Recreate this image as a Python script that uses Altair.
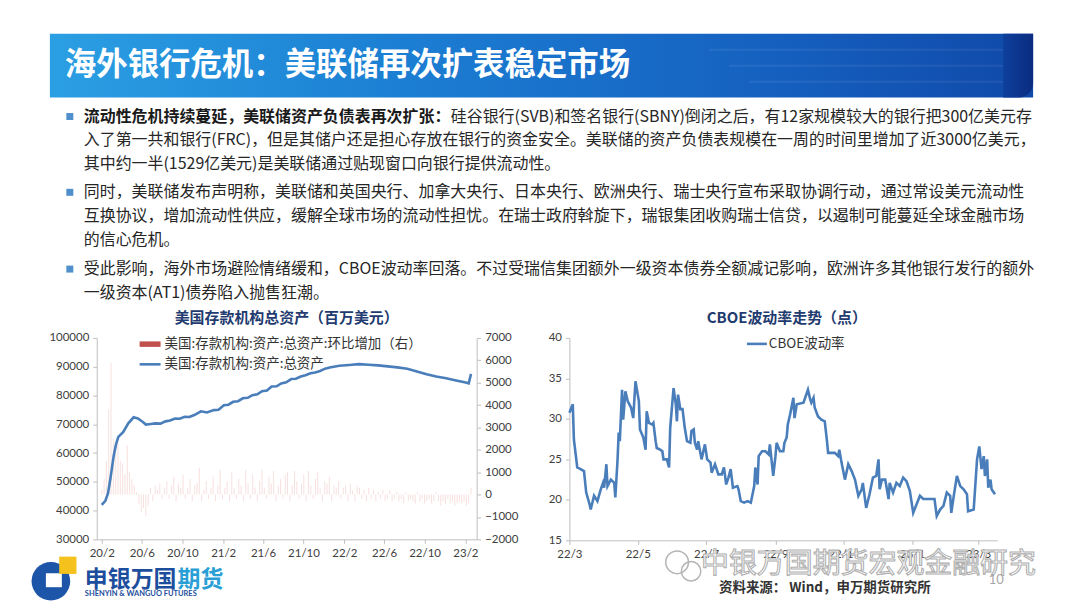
import altair as alt
import pandas as pd

CJK = "Noto Sans CJK SC"
NUM = "Lato"

# ---------------- data ----------------
# weekly change of total assets (right axis), starting 2020-02-01
bar_start = "2020-02-01"
bar_change = [
    200, 700, 1500, 3800, 5900, 2500, 1800, 2300, 1500, 1400,
    900, 2200, 1000, 700, 400, 100, -400, -800, -600, -950,
    -500, 300, -300, 400, 200, 500, -200, 300, 600, -200,
    400, 800, -300, 500, 300, 900, -200, 300, 700, -300,
    400, 500, 1200, -300, 200, 600, -200, 300, 800, -300,
    400, 1100, -200, 300, 600, -300, 1000, 300, -200, 700,
    400, -300, 1100, 500, -200, 900, 300, -300, 600, 1100,
    300, -200, 800, 500, 1050, -300, 400, 700, -200, 900,
    1000, -300, 400, 1050, 600, -200, 500, 900, -300, 1050,
    400, -200, 700, 1000, 300, -300, 600, 500, 800, -300,
    400, 300, 600, -200, 300, 400, -300, 500, 200, -300,
    400, 300, -200, 200, -300, 300, -200, 200, -300, 100,
    -200, 200, -300, -200, 200, -300, -200, 100, -300, -200,
    -400, 100, -300, -200, -300, -400, 100, -300, -200, -400,
    -300, -200, -400, -300, 100, -300, -500, -300, -400, -200,
    -400, -300, -500, -400, -300, -400, -300, -500, -400, 300,
]

asset_dates = [
    "2020-02-01", "2020-02-12", "2020-02-20", "2020-02-27", "2020-03-08", "2020-03-15",
    "2020-03-22", "2020-04-06", "2020-04-21", "2020-05-07", "2020-05-20", "2020-06-04",
    "2020-06-13", "2020-06-28", "2020-07-12", "2020-07-27", "2020-08-11", "2020-08-25",
    "2020-09-09", "2020-09-23", "2020-10-08", "2020-10-22", "2020-11-06", "2020-11-26",
    "2020-12-14", "2021-01-04", "2021-01-18", "2021-02-03", "2021-02-17", "2021-03-03",
    "2021-03-18", "2021-04-01", "2021-04-16", "2021-04-30", "2021-05-15", "2021-05-29",
    "2021-06-13", "2021-06-27", "2021-07-12", "2021-07-26", "2021-08-10", "2021-08-25",
    "2021-09-08", "2021-09-23", "2021-10-07", "2021-10-22", "2021-11-05", "2021-11-20",
    "2021-12-05", "2021-12-19", "2022-01-17", "2022-02-16", "2022-03-17", "2022-04-15",
    "2022-05-14", "2022-06-12", "2022-07-11", "2022-08-10", "2022-09-08", "2022-10-07",
    "2022-11-05", "2022-12-05", "2023-01-04", "2023-02-02", "2023-02-11", "2023-02-18",
]
asset_values = [
    42000, 43400, 46000, 51000, 59000, 63000,
    65600, 67300, 70300, 72400, 72000, 70800,
    69900, 70100, 70300, 70200, 71000, 71300,
    72000, 71900, 72600, 72500, 73200, 74500,
    74100, 74900, 75000, 76600, 76800, 77800,
    78000, 79000, 79200, 80100, 80400, 81500,
    81700, 83100, 83200, 84200, 84600, 85700,
    85800, 86600, 87000, 87700, 88000, 88500,
    89300, 89700, 90300, 90600, 90900, 90650,
    90450, 90100, 89750, 89250, 88350, 87400,
    86600, 86000, 85200, 84500, 84200, 87500,
]

vix_dates = [
    "2022-03-01", "2022-03-04", "2022-03-05", "2022-03-08", "2022-03-11", "2022-03-14",
    "2022-03-16", "2022-03-19", "2022-03-20", "2022-03-23", "2022-03-26", "2022-03-29",
    "2022-03-31", "2022-04-01", "2022-04-03", "2022-04-04", "2022-04-07", "2022-04-10",
    "2022-04-11", "2022-04-13", "2022-04-14", "2022-04-15", "2022-04-17", "2022-04-18",
    "2022-04-20", "2022-04-22", "2022-04-25", "2022-04-27", "2022-04-29", "2022-05-02",
    "2022-05-03", "2022-05-06", "2022-05-08", "2022-05-09", "2022-05-11", "2022-05-14",
    "2022-05-15", "2022-05-17", "2022-05-18", "2022-05-21", "2022-05-23", "2022-05-24",
    "2022-05-27", "2022-05-29", "2022-05-30", "2022-06-02", "2022-06-04", "2022-06-05",
    "2022-06-06", "2022-06-08", "2022-06-10", "2022-06-12", "2022-06-14", "2022-06-17",
    "2022-06-18", "2022-06-20", "2022-06-21", "2022-06-23", "2022-06-24", "2022-06-27",
    "2022-06-30", "2022-07-02", "2022-07-05", "2022-07-06", "2022-07-09", "2022-07-12",
    "2022-07-15", "2022-07-17", "2022-07-19", "2022-07-21", "2022-07-23", "2022-07-25",
    "2022-07-29", "2022-07-30", "2022-08-01", "2022-08-04", "2022-08-07", "2022-08-10",
    "2022-08-13", "2022-08-14", "2022-08-16", "2022-08-17", "2022-08-20", "2022-08-23",
    "2022-08-26", "2022-08-27", "2022-08-30", "2022-09-01", "2022-09-02", "2022-09-05",
    "2022-09-08", "2022-09-09", "2022-09-11", "2022-09-12", "2022-09-14", "2022-09-17",
    "2022-09-18", "2022-09-20", "2022-09-26", "2022-09-30", "2022-10-02", "2022-10-03",
    "2022-10-05", "2022-10-06", "2022-10-09", "2022-10-12", "2022-10-15", "2022-10-17",
    "2022-10-18", "2022-10-21", "2022-10-24", "2022-10-27", "2022-10-28", "2022-10-30",
    "2022-11-02", "2022-11-05", "2022-11-08", "2022-11-11", "2022-11-14", "2022-11-17",
    "2022-11-18", "2022-11-21", "2022-11-24", "2022-11-27", "2022-11-30", "2022-12-02",
    "2022-12-03", "2022-12-05", "2022-12-08", "2022-12-11", "2022-12-12", "2022-12-15",
    "2022-12-18", "2022-12-21", "2022-12-24", "2022-12-27", "2022-12-30", "2023-01-02",
    "2023-01-05", "2023-01-08", "2023-01-11", "2023-01-17", "2023-01-21", "2023-01-23",
    "2023-01-26", "2023-01-29", "2023-02-01", "2023-02-04", "2023-02-05", "2023-02-07",
    "2023-02-10", "2023-02-13", "2023-02-16", "2023-02-19", "2023-02-20", "2023-02-25",
    "2023-02-28", "2023-03-02", "2023-03-04", "2023-03-06", "2023-03-07", "2023-03-09",
    "2023-03-10", "2023-03-12", "2023-03-13", "2023-03-16",
]
vix_values = [
    30.75, 31.8, 27.45, 24.0, 23.8, 23.55,
    20.9, 19.45, 18.8, 20.5, 19.85, 21.3,
    22.1, 21.5, 24.4, 21.7, 22.5, 22.1,
    20.3, 25.0, 28.3, 27.25, 33.6, 29.9,
    33.4, 32.2, 31.4, 30.1, 34.65, 32.2,
    28.7, 27.7, 26.2, 30.95, 29.5, 29.3,
    29.5, 27.25, 26.4, 26.2, 26.0, 25.0,
    25.0, 24.0, 28.9, 33.8, 31.8, 29.7,
    33.0, 31.2, 31.2, 28.9, 27.25, 27.05,
    28.5, 28.7, 27.05, 26.2, 27.25, 25.0,
    26.85, 25.0, 24.6, 23.35, 24.4, 23.15,
    23.15, 24.0, 21.9, 22.75, 23.8, 21.5,
    21.7, 21.3, 19.85, 19.65, 19.85, 19.65,
    21.7, 24.0, 21.9, 25.4, 26.0, 26.0,
    25.6, 26.85, 22.95, 25.4, 27.05, 26.0,
    26.0, 27.05, 27.7, 29.3, 30.5, 32.6,
    30.1, 31.8, 32.0, 33.6, 32.4, 32.0,
    32.6, 31.4, 30.3, 29.9, 29.7, 27.25,
    25.8, 25.8, 25.8, 25.4, 26.2, 24.6,
    22.5, 24.4, 23.55, 22.5, 20.5, 21.3,
    22.1, 19.0, 20.7, 22.75, 22.95, 25.0,
    21.3, 22.5, 22.5, 20.1, 22.1, 20.9,
    22.1, 21.7, 22.75, 22.3, 21.1, 18.4,
    19.45, 20.5, 20.1, 20.1, 20.1, 18.0,
    18.8, 19.25, 20.9, 20.5, 18.4, 20.3,
    22.95, 21.7, 21.3, 20.7, 18.6, 18.8,
    25.0, 26.6, 23.8, 25.4, 22.95, 25.0,
    21.5, 22.5, 21.3, 20.7,
]

left_ticks = ["2020-02", "2020-06", "2020-10", "2021-02", "2021-06",
              "2021-10", "2022-02", "2022-06", "2022-10", "2023-02"]
right_ticks = ["2022-03", "2022-05", "2022-07", "2022-09", "2022-11", "2023-01", "2023-03"]
asset_axis = [30000, 40000, 50000, 60000, 70000, 80000, 90000, 100000]
change_axis = [-2000, -1000, 0, 1000, 2000, 3000, 4000, 5000, 6000, 7000]
vix_axis = [15, 20, 25, 30, 35, 40]

title_text = "海外银行危机：美联储再次扩表稳定市场"
b1_bold = "流动性危机持续蔓延，美联储资产负债表再次扩张："
b1_rest = "硅谷银行(SVB)和签名银行(SBNY)倒闭之后，有12家规模较大的银行把300亿美元存"
body_lines = [
    "入了第一共和银行(FRC)，但是其储户还是担心存放在银行的资金安全。美联储的资产负债表规模在一周的时间里增加了近3000亿美元，",
    "其中约一半(1529亿美元)是美联储通过贴现窗口向银行提供流动性。",
    "同时，美联储发布声明称，美联储和英国央行、加拿大央行、日本央行、欧洲央行、瑞士央行宣布采取协调行动，通过常设美元流动性",
    "互换协议，增加流动性供应，缓解全球市场的流动性担忧。在瑞士政府斡旋下，瑞银集团收购瑞士信贷，以遏制可能蔓延全球金融市场",
    "的信心危机。",
    "受此影响，海外市场避险情绪缓和，CBOE波动率回落。不过受瑞信集团额外一级资本债券全额减记影响，欧洲许多其他银行发行的额外",
    "一级资本(AT1)债券陷入抛售狂潮。",
]
left_title = "美国存款机构总资产（百万美元）"
right_title = "CBOE波动率走势（点）"
legend_bar = "美国:存款机构:资产:总资产:环比增加（右）"
legend_line = "美国:存款机构:资产:总资产"
legend_vix = "CBOE波动率"
source_text = "资料来源： Wind，申万期货研究所"
watermark = "中银万国期货宏观金融研究"

# ---------------- tables ----------------
bar_df = pd.DataFrame({
    "date": pd.date_range(bar_start, periods=len(bar_change), freq="7D").strftime("%Y/%m/%d"),
    "chg": bar_change,
})
asset_df = pd.DataFrame({"date": [d.replace("-", "/") for d in asset_dates], "assets": asset_values})
vix_df = pd.DataFrame({"date": [d.replace("-", "/") for d in vix_dates], "vix": vix_values})
one = pd.DataFrame({"k": [0]})


def ym(s, day=1):
    y, m = s.split("-")[:2]
    return alt.DateTime(year=int(y), month=int(m), date=day)


def vtext(text, x, y, size, color, weight="normal", align="left", font=CJK, **kw):
    return alt.Chart(one).mark_text(
        text=text, align=align, baseline="middle", fontSize=size, color=color,
        fontWeight=weight, font=font, **kw
    ).encode(x=alt.value(x), y=alt.value(y))


def vrect(x, x2, y, y2, **kw):
    return alt.Chart(one).mark_rect(**kw).encode(
        x=alt.value(x), x2=alt.value(x2), y=alt.value(y), y2=alt.value(y2))


def axis_common(**kw):
    base = dict(labelFont=NUM, labelFontSize=11.5, labelColor="#404040", domainColor="#bfbfbf",
                tickColor="#bfbfbf", tickSize=4, labelPadding=4, grid=False, title=None,
                labelFlush=False, labelOverlap=False)
    base.update(kw)
    return alt.Axis(**base)


# ---------------- header (banner + bullets) ----------------
banner_grad = {
    "gradient": "linear", "x1": 0, "x2": 1, "y1": 0, "y2": 0,
    "stops": [
        {"offset": 0, "color": "#2b9fe3"},
        {"offset": 0.35, "color": "#1c7fd3"},
        {"offset": 0.75, "color": "#155fbf"},
        {"offset": 1, "color": "#1049a8"},
    ],
}
tab_grad = {
    "gradient": "linear", "x1": 0, "x2": 1, "y1": 0, "y2": 0,
    "stops": [{"offset": 0, "color": "#0e3f9c"}, {"offset": 1, "color": "#0a2c80"}],
}
header_layers = [
    vrect(39, 1025, 25, 89, color=banner_grad),
    vrect(700, 995, 40, 42, color="white", opacity=0.07),
    vrect(720, 995, 56, 58, color="white", opacity=0.07),
    vrect(740, 995, 72, 74, color="white", opacity=0.07),
    vrect(995, 1025, 25, 89, color=tab_grad, cornerRadiusBottomRight=14),
    vtext(title_text, 54, 57, 31.5, "white", weight="bold"),
]
for by in [108, 184, 261]:
    header_layers.append(
        alt.Chart(one).mark_square(size=49, color="#4f8fcb", opacity=1).encode(
            x=alt.value(59), y=alt.value(by)))
header_layers.append(vtext(b1_bold, 73, 108, 16, "#1a1a1a", weight="bold"))
header_layers.append(vtext(b1_rest, 441, 108, 16, "#262626"))
for txt, ty in zip(body_lines, [132, 156, 184, 208, 232, 261, 285]):
    header_layers.append(vtext(txt, 73, ty, 16, "#262626"))

header = alt.layer(*header_layers).properties(width=1064, height=330)

# ---------------- left chart ----------------
x_left = alt.X(
    "date:T",
    scale=alt.Scale(domain=[ym("2020-02", 1), ym("2023-02", 20)]),
    axis=axis_common(values=[ym(t) for t in left_ticks], format="%y/%-m", labelAngle=0),
)
bars = alt.Chart(bar_df).mark_bar(size=1, color="#d9706c", opacity=0.22).encode(
    x=x_left,
    y=alt.Y("chg:Q", scale=alt.Scale(domain=[-2000, 7000], nice=False),
            axis=axis_common(orient="right", values=change_axis, format="d")),
)
asset_line = alt.Chart(asset_df).mark_line(color="#4a7ebb", strokeWidth=2.6).encode(
    x=x_left,
    y=alt.Y("assets:Q", scale=alt.Scale(domain=[30000, 100000], nice=False, zero=False),
            axis=axis_common(orient="left", values=asset_axis, format="d")),
)
left = alt.layer(
    bars,
    asset_line,
    vrect(43, 64, 3.5, 9, color="#c0504d"),
    alt.Chart(one).mark_rule(color="#4a7ebb", strokeWidth=2.6).encode(
        x=alt.value(43), x2=alt.value(64), y=alt.value(26.5)),
    vtext(legend_bar, 68, 6.3, 13.5, "#333333"),
    vtext(legend_line, 68, 26.3, 13.5, "#333333"),
    vtext(left_title, 190.5, -20, 15, "#1f3b6f", weight="bold", align="center"),
).resolve_scale(y="independent").properties(width=381, height=202)

# ---------------- right chart ----------------
vix_line = alt.Chart(vix_df).mark_line(color="#4a7ebb", strokeWidth=2.6).encode(
    x=alt.X("date:T",
            scale=alt.Scale(domain=[ym("2022-03", 1), ym("2023-03", 18)]),
            axis=axis_common(values=[ym(t) for t in right_ticks], format="%y/%-m", labelAngle=0)),
    y=alt.Y("vix:Q", scale=alt.Scale(domain=[15, 40], nice=False, zero=False),
            axis=axis_common(values=vix_axis, format="d")),
)
right = alt.layer(
    vix_line,
    alt.Chart(one).mark_rule(color="#4a7ebb", strokeWidth=2.6).encode(
        x=alt.value(178), x2=alt.value(198), y=alt.value(6)),
    vtext(legend_vix, 200, 6, 13.5, "#333333"),
    vtext(right_title, 218, -20, 15, "#1f3b6f", weight="bold", align="center"),
).properties(width=429, height=203)


def spacer(w, h):
    return alt.Chart(one).mark_point(opacity=0).encode(
        x=alt.value(0), y=alt.value(0)).properties(width=w, height=h)


row = alt.hconcat(spacer(86, 202), left, spacer(93, 202), right, spacing=0, bounds="flush")

# ---------------- footer (drawn last; its origin sits at the charts' top edge) ----------------
FY = 203  # footer items sit below the 203px chart row
footer = alt.layer(
    alt.Chart(one).mark_point(shape="circle", size=1500, filled=True, color="#1d56a8", opacity=1).encode(
        x=alt.value(40), y=alt.value(FY + 41)),
    vrect(35, 51, FY + 33, FY + 47, color="white"),
    alt.Chart(one).mark_square(size=300, color="#f5c11c", opacity=1).encode(
        x=alt.value(57), y=alt.value(FY + 25)),
    vtext("申银万国", 74, FY + 40, 23, "#1c4e9d", weight="bold"),
    vtext("期货", 167, FY + 40, 23, "#2a9fd6", weight="bold"),
    vtext("SHENYIN & WANGUO FUTURES", 74, FY + 54, 7.5, "#1c4e9d", weight="bold", font=NUM),
    alt.Chart(one).mark_point(shape="circle", size=520, filled=False, color="#b5b5b5",
                              strokeWidth=1.5, opacity=1).encode(x=alt.value(668), y=alt.value(FY + 22)),
    alt.Chart(one).mark_point(shape="circle", size=380, filled=False, color="#b5b5b5",
                              strokeWidth=1.5, opacity=1).encode(x=alt.value(682), y=alt.value(FY + 31)),
    vtext(watermark, 692, FY + 25, 28, "#ffffff", stroke="#b0b0b0", strokeWidth=1.1),
    vtext(source_text, 710, FY + 48, 13.5, "#333333", weight="bold"),
    vtext("10", 988, FY + 40, 13, "#a6a6a6", align="center", font=NUM),
).properties(width=1064, height=20)

chart = alt.vconcat(header, row, footer, spacing=0, bounds="flush").properties(
    padding=0, background="white"
).configure_view(stroke=None)

chart.save("out.html", embed_options={"renderer": "svg", "actions": False})
